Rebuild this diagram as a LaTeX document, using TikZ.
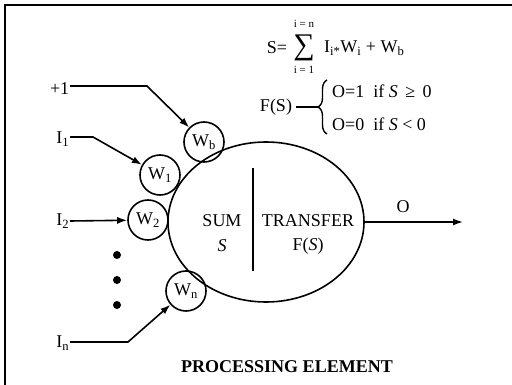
\documentclass[tikz,border=0pt]{standalone}
\usepackage{fontspec}
\setmainfont{Liberation Serif}
\usetikzlibrary{arrows.meta,shapes.geometric,decorations.pathreplacing}
\begin{document}
\begin{tikzpicture}[x=1pt,y=-1pt,line width=1.6pt,
  >={Latex[length=10pt,width=7pt]},
  every node/.style={font=\fontsize{18}{20}\selectfont},
  wbox/.style={circle,draw,minimum size=40pt,inner sep=0pt},
  lbl/.style={inner sep=0pt,anchor=east},
  dotn/.style={circle,fill,minimum size=8pt,inner sep=0pt},
  small/.style={font=\fontsize{11}{12}\selectfont,inner sep=0pt}]
\useasboundingbox (0,0) rectangle (512,385);
\draw (5,385) -- (5,5) -- (512,5);
% processing element
\node[ellipse,draw,minimum width=196pt,minimum height=160pt,inner sep=0pt] (pe) at (266,222) {};
\coordinate (dt) at (253,168);
\coordinate (db) at (253,271);
\draw (dt) -- (db);
\node (sum) at (222,221) {SUM};
\node (s) at (222,246) {\itshape S};
\node (tr) at (308,221) {TRANSFER};
\node (fs) at (308,246) {F(\textit{S})};
% weights
\node[wbox] (wb) at (204,142) {W\textsubscript{b}};
\node[wbox] (w1) at (160,175) {W\textsubscript{1}};
\node[wbox] (w2) at (148,220) {W\textsubscript{2}};
\node[wbox] (wn) at (186,291) {W\textsubscript{n}};
% inputs
\node[lbl] (p1) at (70,89) {+1};
\node[lbl] (i1) at (70,139) {I\textsubscript{1}};
\node[lbl] (i2) at (70,221) {I\textsubscript{2}};
\node[lbl] (in) at (70,343) {I\textsubscript{n}};
\coordinate (k0) at (147,86);
\coordinate (k1) at (93,137);
\coordinate (kn) at (128,342);
\draw[->] (p1.east |- k0) -- (k0) -- (wb);
\draw[->] (i1.east |- k1) -- (k1) -- (w1);
\draw[->] (i2.east) -- (w2);
\draw[->] (in.east |- kn) -- (kn) -- (wn);
\node[dotn] (d1) at (117,255) {};
\node[dotn] (d2) at (117,280) {};
\node[dotn] (d3) at (117,305) {};
% output
\coordinate (out) at (463,222);
\draw[->] (pe.east) -- (out);
\node (o) at (403,207) {O};
% equation
\node (eqs) at (277,48) {S=};
\node[inner sep=0pt] (sig) at (304,48) {\fontsize{30}{30}\selectfont ∑};
\node[small] (up) at (304,24) {i = n};
\node[small] (lo) at (304,70) {i = 1};
\node[anchor=west] (expr) at (320,48) {I\textsubscript{i*}W\textsubscript{i} + W\textsubscript{b}};
\node (fS) at (276,107) {F(S)};
\coordinate (btip) at (318,107);
\draw[line width=1.4pt,decorate,decoration={brace,amplitude=9pt}] (327,134) -- (327,80);
\draw (fS.east) -- (btip);
\node[anchor=west] (c1) at (328,91) {O=1\ \ if \textit{S}\, ≥\, 0};
\node[anchor=west] (c2) at (328,124) {O=0\ \ if \textit{S} < 0};
% title
\node (title) at (287,367) {\bfseries PROCESSING ELEMENT};
\end{tikzpicture}
\end{document}
